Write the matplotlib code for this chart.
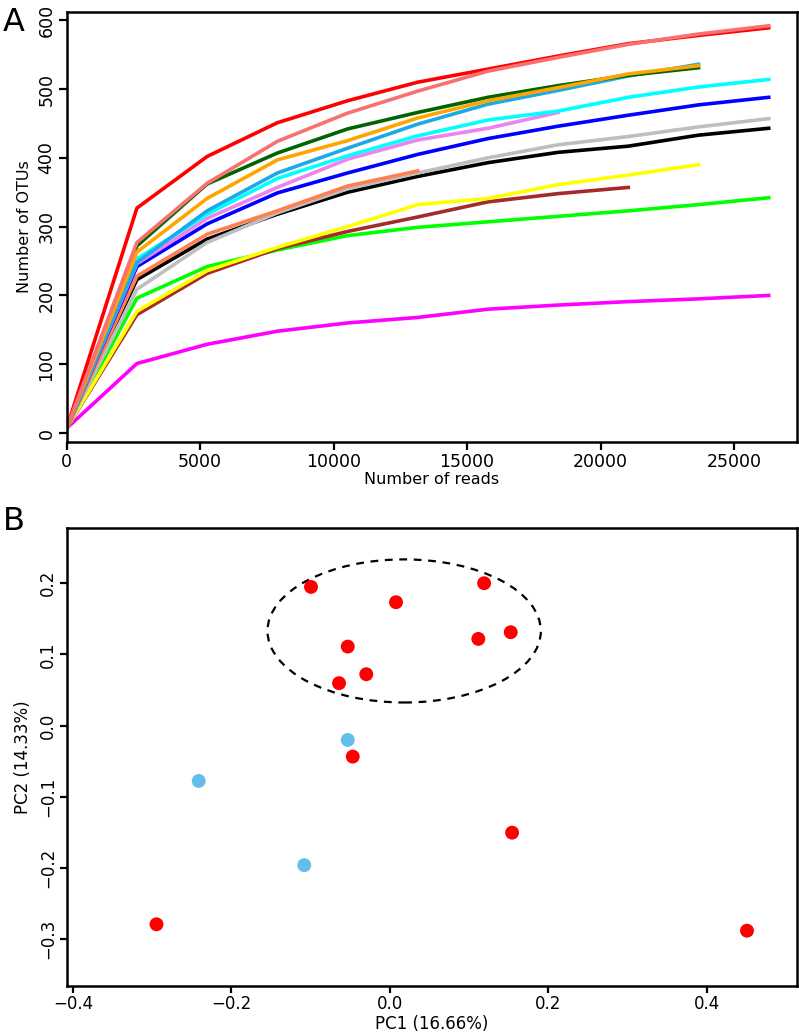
import matplotlib
matplotlib.use("Agg")
import matplotlib.pyplot as plt
from matplotlib.patches import Ellipse
import numpy as np

# Rarefaction curves (panel A)
reads = [0, 2630, 5260, 7890, 10520, 13150, 15780, 18410, 21040, 23670, 26300]

otus_magenta = [7, 101, 129, 148, 160, 168, 180, 186, 191, 195, 200]
otus_green = [7, 196, 242, 266, 287, 299, 307, 315, 323, 332, 342]
otus_brown = [7, 172, 232, 268, 293, 314, 336, 348, 357]
otus_yellow = [7, 177, 236, 270, 300, 332, 341, 361, 375, 390]
otus_black = [7, 223, 282, 318, 350, 373, 393, 408, 417, 433, 443]
otus_gray = [7, 209, 277, 320, 355, 378, 400, 419, 431, 445, 457]
otus_coral = [7, 228, 289, 323, 359, 381]
otus_blue = [7, 242, 304, 349, 378, 405, 428, 446, 462, 477, 488]
otus_violet = [7, 246, 312, 357, 398, 426, 443, 466]
otus_cyan = [7, 253, 318, 370, 403, 432, 455, 468, 488, 503, 514]
otus_skyblue = [7, 248, 323, 378, 414, 449, 478, 498, 519, 536]
otus_darkgreen = [7, 272, 362, 407, 442, 466, 488, 505, 520, 531]
otus_orange = [7, 263, 341, 397, 425, 458, 483, 502, 522, 534]
otus_red = [7, 327, 402, 451, 483, 510, 529, 548, 566, 578, 589]
otus_salmon = [7, 277, 363, 424, 465, 497, 526, 546, 565, 580, 592]

curves = [
    (otus_magenta, "#FF00FF"),
    (otus_green, "#00FF00"),
    (otus_brown, "#A52A2A"),
    (otus_yellow, "#FFFF00"),
    (otus_black, "#000000"),
    (otus_gray, "#BEBEBE"),
    (otus_coral, "#FF7F50"),
    (otus_blue, "#0000FF"),
    (otus_violet, "#EE82EE"),
    (otus_cyan, "#00FFFF"),
    (otus_skyblue, "#1AAAE8"),
    (otus_darkgreen, "#006400"),
    (otus_orange, "#FFA500"),
    (otus_red, "#FF0000"),
    (otus_salmon, "#FA7070"),
]

# PCoA (panel B)
pc1_red = [-0.0995, 0.0078, 0.119, -0.0531, 0.1117, 0.1526, -0.0641, -0.0297,
           -0.0468, 0.1543, -0.2945, 0.4508]
pc2_red = [0.1948, 0.1733, 0.200, 0.111, 0.1218, 0.1312, 0.0596, 0.0722,
           -0.0435, -0.1503, -0.279, -0.288]
in_cluster = [1, 1, 1, 1, 1, 1, 1, 1, 0, 0, 0, 0]
pc1_blue = [-0.0531, -0.2412, -0.108]
pc2_blue = [-0.0201, -0.0777, -0.196]

fig = plt.figure(figsize=(7.99, 10.36), dpi=100)

#Panel A
ax1 = fig.add_axes([0.0835, 0.5734, 0.914, 0.415])
for vals, col in curves:
    ax1.plot(reads[:len(vals)], vals, color=col, lw=2.6, solid_joinstyle="round")
ax1.set_xlim(0, 27360)
ax1.set_ylim(-13, 612)
ax1.set_xticks([0, 5000, 10000, 15000, 20000, 25000])
ax1.set_yticks([0, 100, 200, 300, 400, 500, 600])
ax1.tick_params(direction="out", length=6, width=1.6, labelsize=12.5, pad=2)
ax1.tick_params(axis="y", labelrotation=90)
for lab in ax1.get_yticklabels():
    lab.set_va("center")
for s in ax1.spines.values():
    s.set_linewidth(1.8)
ax1.set_xlabel("Number of reads", fontsize=11.5, labelpad=0.5)
ax1.set_ylabel("Number of OTUs", fontsize=11.5, labelpad=4)
fig.text(0.003, 0.978, "A", fontsize=23, va="center")

#Panel B
ax2 = fig.add_axes([0.0835, 0.0486, 0.9136, 0.4415])
ax2.scatter(pc1_red, pc2_red, s=100, color="#FF0000", edgecolors="none", zorder=3)
ax2.scatter(pc1_blue, pc2_blue, s=100, color="#63BEEC", edgecolors="none", zorder=3)

cx = np.mean([x for x, c in zip(pc1_red, in_cluster) if c])
cy = np.mean([y for y, c in zip(pc2_red, in_cluster) if c])
ell = Ellipse((cx, cy), 0.345, 0.201, fill=False, ls=(0, (3.5, 3)), lw=1.6, ec="black")
ax2.add_patch(ell)

ax2.set_xlim(-0.4078, 0.5135)
ax2.set_ylim(-0.3652, 0.2772)
ax2.set_xticks([-0.4, -0.2, 0.0, 0.2, 0.4])
ax2.set_yticks([-0.3, -0.2, -0.1, 0.0, 0.1, 0.2])
ax2.tick_params(direction="out", length=5, width=1.6, labelsize=12, pad=2)
ax2.tick_params(axis="y", labelrotation=90)
for lab in ax2.get_yticklabels():
    lab.set_va("center")
for s in ax2.spines.values():
    s.set_linewidth(1.8)
ax2.set_xlabel("PC1 (16.66%)", fontsize=12, labelpad=1)
ax2.set_ylabel("PC2 (14.33%)", fontsize=12, labelpad=5)
fig.text(0.003, 0.497, "B", fontsize=23, va="center")

plt.savefig("out.png", dpi=100)
